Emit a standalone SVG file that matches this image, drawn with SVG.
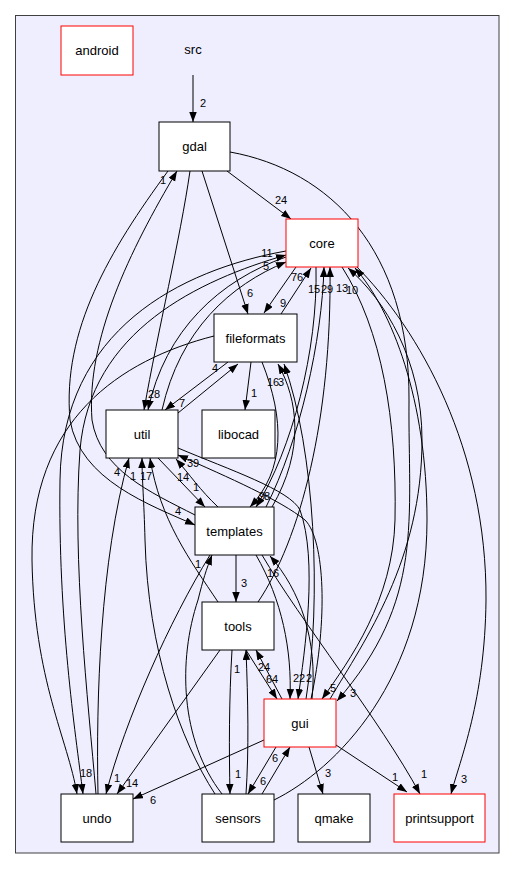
<svg xmlns="http://www.w3.org/2000/svg" width="515" height="869" viewBox="0 0 515 869">
<defs>
<marker id="ah" markerUnits="userSpaceOnUse" markerWidth="11" markerHeight="8" refX="10" refY="3.75" orient="auto">
<path d="M0,0 L10,3.75 L0,7.5 z" fill="#000"/>
</marker>
<style>
.n rect{fill:#fff;stroke:#000;stroke-width:1}
.n.red rect{stroke:#ff0000}
.n text{font-family:"Liberation Sans",Arial,sans-serif;font-size:13px;text-anchor:middle;fill:#000}
.e path{fill:none;stroke:#000;stroke-width:1;marker-end:url(#ah)}
.l text{font-family:"Liberation Sans",Arial,sans-serif;font-size:11px;text-anchor:middle;fill:#000}
</style>
</defs>
<rect width="515" height="869" fill="#fff"/>
<g id="cluster-src">
<rect x="15.5" y="15.5" width="483.5" height="837.5" fill="#eeeeff" stroke="#404040" stroke-width="1"/>
<text x="193" y="54" font-family="Liberation Sans,Arial,sans-serif" font-size="13" text-anchor="middle">src</text>
</g>
<g id="connectors" class="e">
<path d="M193,75 L193,122"/>
<path d="M227,171 L291,219"/>
<path d="M202,171 L248,314"/>
<path d="M190,171 C180,240 158,330 144,410"/>
<path d="M168,171 C110,250 62,330 70,420 C80,480 150,505 195,525"/>
<path d="M195,515 C150,492 100,470 92,420 C86,340 130,250 177,171"/>
<path d="M230,152 C330,170 410,250 409,400 C408,520 425,600 337,701"/>
<path d="M296,267 L264,313"/>
<path d="M281,314 L311,268"/>
<path d="M286,257 C220,280 165,330 148,410"/>
<path d="M162,410 C180,330 230,285 286,262"/>
<path d="M96,794 C88,700 72,560 80,450 C90,330 200,280 286,255"/>
<path d="M286,251 C180,270 62,330 60,480 C58,620 75,730 83,794"/>
<path d="M214,336 C120,360 30,420 32,560 C34,680 68,740 77,794"/>
<path d="M228,362 L165,410"/>
<path d="M178,413 L238,364"/>
<path d="M251,362 L245,410"/>
<path d="M262,362 C285,420 285,470 250,507"/>
<path d="M272,507 C305,450 298,400 278,364"/>
<path d="M306,699 C322,600 315,450 284,364"/>
<path d="M266,507 C300,440 322,340 324,267"/>
<path d="M316,267 C318,350 292,450 256,507"/>
<path d="M258,602 C300,540 332,420 330,267"/>
<path d="M342,267 C382,330 397,420 395,520 C393,600 350,660 322,699"/>
<path d="M355,265 C420,330 487,450 486,600 C485,700 460,760 451,794"/>
<path d="M330,699 C365,640 422,560 422,440 C422,360 385,300 348,268"/>
<path d="M274,800 C335,770 427,680 427,520 C427,400 392,310 355,268"/>
<path d="M246,650 L277,699"/>
<path d="M282,699 L256,650"/>
<path d="M256,555 C282,600 292,650 290,699"/>
<path d="M178,448 C230,470 290,490 300,510 C318,560 305,650 298,699"/>
<path d="M311,699 C328,620 325,540 305,520 C280,500 230,478 178,455"/>
<path d="M312,699 C318,640 300,590 270,556"/>
<path d="M236,555 L236,602"/>
<path d="M262,555 C300,620 380,720 420,794"/>
<path d="M336,745 L407,792"/>
<path d="M309,747 L323,794"/>
<path d="M276,747 L248,794"/>
<path d="M262,794 L290,747"/>
<path d="M264,740 L133,799"/>
<path d="M220,650 L117,794"/>
<path d="M232,650 C229,700 229,750 230,794"/>
<path d="M246,794 C249,750 248,700 246,650"/>
<path d="M210,555 C170,620 125,720 106,794"/>
<path d="M222,794 C180,740 178,660 198,600 C203,580 206,570 212,555"/>
<path d="M215,794 C180,740 148,650 145,540 C144,500 142,480 142,458"/>
<path d="M218,602 C190,560 160,520 150,458"/>
<path d="M98,794 C96,700 100,560 129,458"/>
<path d="M158,458 L205,507"/>
<path d="M218,507 C200,490 190,475 176,459"/>
</g>
<g id="edge-labels" class="l">
<text x="203" y="107">2</text>
<text x="281" y="204">24</text>
<text x="163" y="184">1</text>
<text x="267" y="257">11</text>
<text x="266" y="270">5</text>
<text x="297" y="281">76</text>
<text x="314" y="293">15</text>
<text x="327" y="293">29</text>
<text x="342" y="292">13</text>
<text x="352" y="294">10</text>
<text x="250" y="297">6</text>
<text x="283" y="307">9</text>
<text x="151" y="398">2</text>
<text x="157" y="398">8</text>
<text x="182" y="407">7</text>
<text x="215" y="372">4</text>
<text x="254" y="397">1</text>
<text x="273" y="386">16</text>
<text x="281" y="386">3</text>
<text x="193" y="467">39</text>
<text x="117" y="476">4</text>
<text x="133" y="480">1</text>
<text x="146" y="480">17</text>
<text x="183" y="481">14</text>
<text x="196" y="491">1</text>
<text x="178" y="515">4</text>
<text x="262" y="500">9</text>
<text x="267" y="500">8</text>
<text x="198" y="568">1</text>
<text x="273" y="577">16</text>
<text x="244" y="587">3</text>
<text x="237" y="673">1</text>
<text x="264" y="671">24</text>
<text x="272" y="683">64</text>
<text x="296" y="682">2</text>
<text x="302" y="682">2</text>
<text x="309" y="682">2</text>
<text x="333" y="692">5</text>
<text x="353" y="697">3</text>
<text x="86" y="777">18</text>
<text x="117" y="782">1</text>
<text x="132" y="787">14</text>
<text x="153" y="804">6</text>
<text x="238" y="778">1</text>
<text x="275" y="762">6</text>
<text x="263" y="785">6</text>
<text x="328" y="777">3</text>
<text x="395" y="781">1</text>
<text x="424" y="778">1</text>
<text x="464" y="783">3</text>
</g>
<g id="android" class="n red"><rect x="61" y="26" width="72" height="49"/><text x="97" y="55">android</text></g>
<g id="gdal" class="n"><rect x="159" y="122" width="71" height="49"/><text x="194.5" y="151">gdal</text></g>
<g id="core" class="n red"><rect x="286" y="219" width="72" height="48"/><text x="322" y="247.5">core</text></g>
<g id="fileformats" class="n"><rect x="214" y="314" width="83" height="48"/><text x="255.5" y="342.5">fileformats</text></g>
<g id="util" class="n"><rect x="106" y="410" width="72" height="48"/><text x="142" y="438.5">util</text></g>
<g id="libocad" class="n"><rect x="202" y="410" width="73" height="48"/><text x="238.5" y="438.5">libocad</text></g>
<g id="templates" class="n"><rect x="195" y="507" width="79" height="48"/><text x="234.5" y="535.5">templates</text></g>
<g id="tools" class="n"><rect x="202" y="602" width="72" height="48"/><text x="238" y="630.5">tools</text></g>
<g id="gui" class="n red"><rect x="264" y="699" width="72" height="48"/><text x="300" y="727.5">gui</text></g>
<g id="undo" class="n"><rect x="61" y="794" width="72" height="48"/><text x="97" y="822.5">undo</text></g>
<g id="sensors" class="n"><rect x="202" y="794" width="72" height="48"/><text x="238" y="822.5">sensors</text></g>
<g id="qmake" class="n"><rect x="298" y="794" width="72" height="48"/><text x="334" y="822.5">qmake</text></g>
<g id="printsupport" class="n red"><rect x="394" y="794" width="91" height="48"/><text x="439.5" y="822.5">printsupport</text></g>
</svg>
